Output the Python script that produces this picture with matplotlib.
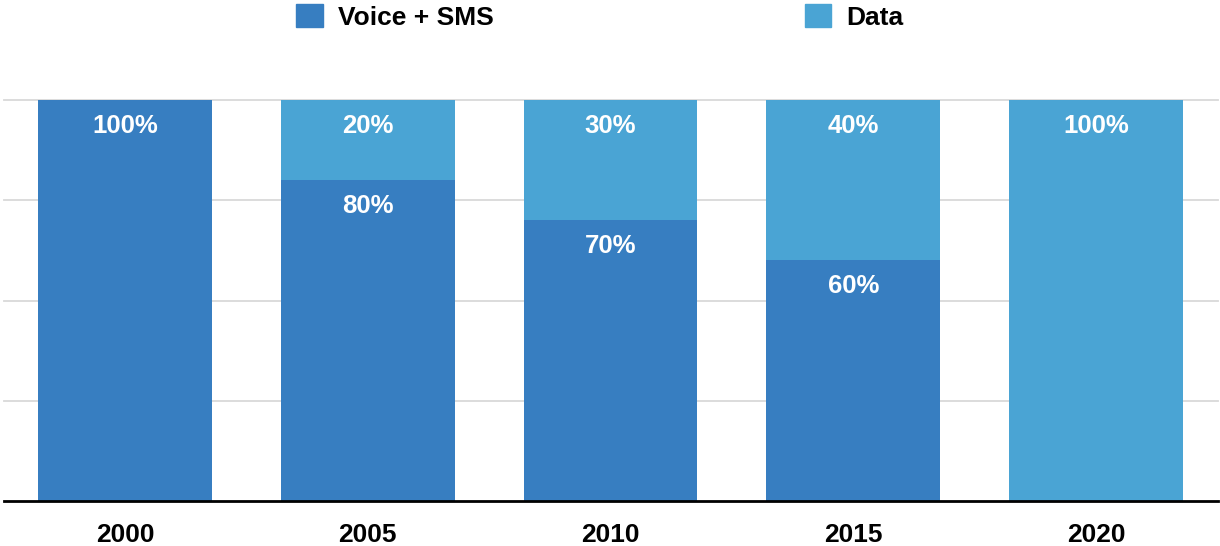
import matplotlib
matplotlib.use("Agg")
import matplotlib.pyplot as plt
import numpy as np
from matplotlib.patches import Patch

plt.rcParams['font.family'] = ['Liberation Sans', 'DejaVu Sans']

years = ['2000', '2005', '2010', '2015', '2020']
voice_sms = [100, 80, 70, 60, 0]
data = [0, 20, 30, 40, 100]

c_voice = '#377ec1'
c_data = '#4aa4d4'

fig = plt.figure(figsize=(12.2, 5.46), dpi=100)
ax = fig.add_axes([3.5 / 1220, 45 / 546, 1214 / 1220, 401 / 546])

x = np.arange(len(years))
w = 0.716
ax.bar(x, voice_sms, width=w, color=c_voice, zorder=2)
ax.bar(x, data, width=w, bottom=voice_sms, color=c_data, zorder=2)

for i in range(len(years)):
    v = voice_sms[i]
    d = data[i]
    if v > 0:
        ax.text(x[i], v - 6.5, f'{v}%', ha='center', va='center', color='white',
                fontsize=18.5, fontweight='bold', zorder=3)
    if d > 0:
        ax.text(x[i], v + d - 6.5, f'{d}%', ha='center', va='center', color='white',
                fontsize=18.5, fontweight='bold', zorder=3)

ax.set_xlim(-0.5, 4.5)
ax.set_ylim(0, 100)
ax.set_yticks([25, 50, 75, 100])
ax.yaxis.grid(True, color='#d9d9d9', linewidth=1.3, zorder=1)
for gl in ax.get_ygridlines():
    gl.set_clip_on(False)
ax.tick_params(axis='y', left=False, labelleft=False)
ax.set_xticks(x)
ax.set_xticklabels(years, fontsize=19, fontweight='bold')
ax.tick_params(axis='x', length=0, pad=16)
for s in ['top', 'right', 'left']:
    ax.spines[s].set_visible(False)
ax.spines['bottom'].set_linewidth(2)
ax.spines['bottom'].set_color('black')
ax.spines['bottom'].set_zorder(4)

handles = [Patch(color=c_voice, label='Voice + SMS'), Patch(color=c_data, label='Data')]
fig.legend(handles=handles, loc='upper center', bbox_to_anchor=(600 / 1220, 0.998),
           ncol=2, frameon=False, prop={'size': 19, 'weight': 'bold'},
           handlelength=1.0, handleheight=1.0, handletextpad=0.57,
           columnspacing=11.8, borderpad=0.0, borderaxespad=0.1)

fig.savefig('out.png', dpi=100)
